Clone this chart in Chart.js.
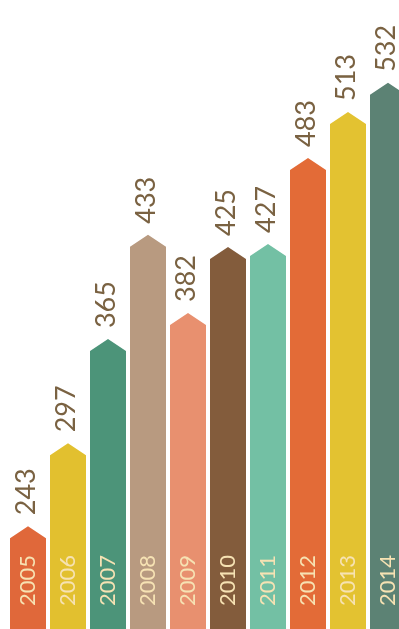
<!DOCTYPE html>
<html>
<head>
<meta charset="utf-8">
<script src="https://cdn.jsdelivr.net/npm/chart.js@4"></script>
<style>
  html, body { margin: 0; padding: 0; background: #fff; overflow: hidden; }
  #wrap { width: 410px; height: 629px; }
</style>
</head>
<body>
<div id="wrap"><canvas id="barCanvas" width="410" height="629"></canvas></div>
<script>
// 연도별 값
var years = ['2005', '2006', '2007', '2008', '2009', '2010', '2011', '2012', '2013', '2014'];
var values = [243, 297, 365, 433, 382, 425, 427, 483, 513, 532];
var barColors = ['#e0683a', '#e2c02f', '#4c9479', '#b89a80', '#e8906f',
                 '#835c3c', '#73c0a4', '#e36b37', '#e3c231', '#5c8274'];

// 화살표 모양 막대 그리기
var arrowBars = {
  id: 'arrowBars',
  beforeDatasetDraw: function () { return false; },
  afterDatasetsDraw: function (chart) {
    var ctx = chart.ctx;
    var meta = chart.getDatasetMeta(0);
    var ds = chart.data.datasets[0];
    meta.data.forEach(function (bar, i) {
      var x = bar.x, y = bar.y, half = bar.width / 2, base = bar.base;
      var tip = 12, notch = 12;
      ctx.save();
      ctx.fillStyle = ds.backgroundColor[i];
      ctx.beginPath();
      ctx.moveTo(x - half, base);
      ctx.lineTo(x - half, y + tip);
      ctx.lineTo(x, y);
      ctx.lineTo(x + half, y + tip);
      ctx.lineTo(x + half, base);
      ctx.lineTo(x, base - notch);
      ctx.closePath();
      ctx.fill();

      // 값
      ctx.translate(x + 7, y - 11);
      ctx.rotate(-Math.PI / 2);
      ctx.font = '27px Lato';
      ctx.fillStyle = '#7a6242';
      ctx.textAlign = 'left';
      ctx.textBaseline = 'alphabetic';
      ctx.fillText(ds.data[i], 0, 0);
      ctx.restore();

      // 연도
      ctx.save();
      ctx.translate(x + 7, 606);
      ctx.rotate(-Math.PI / 2);
      ctx.font = '22px Lato';
      ctx.fillStyle = '#f6e2b3';
      ctx.textAlign = 'left';
      ctx.textBaseline = 'alphabetic';
      ctx.fillText(chart.data.labels[i], 0, 0);
      ctx.restore();
    });
  }
};

var ctx = document.getElementById('barCanvas').getContext('2d');
var myBarChart = new Chart(ctx, {
  type: 'bar',
  data: {
    labels: years,
    datasets: [{
      data: values,
      backgroundColor: barColors,
      barPercentage: 0.9,
      categoryPercentage: 1
    }]
  },
  options: {
    responsive: false,
    animation: false,
    layout: { padding: { left: 8, right: 2, top: 0, bottom: 0 } },
    plugins: { legend: { display: false }, tooltip: { enabled: false } },
    scales: {
      x: { display: false },
      y: { display: false, min: 176, max: 586 }
    }
  },
  plugins: [arrowBars]
});
</script>
</body>
</html>
